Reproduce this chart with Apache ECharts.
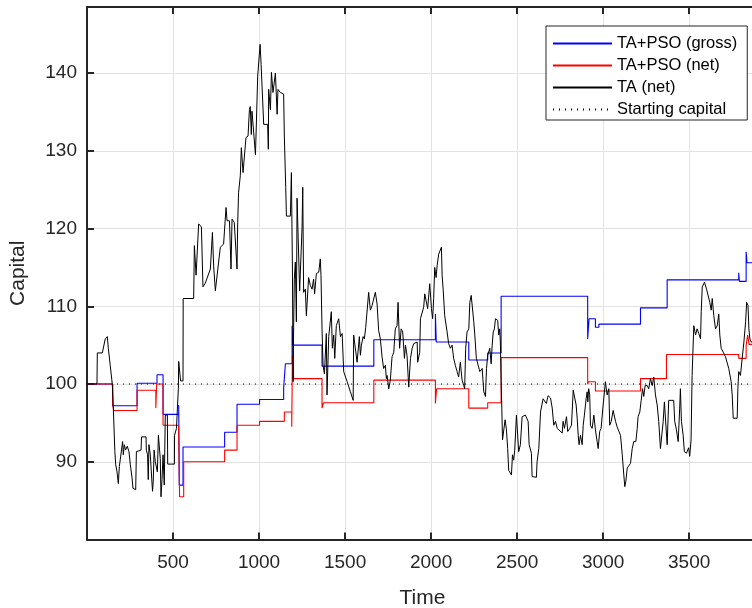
<!DOCTYPE html>
<html>
<head>
<meta charset="utf-8">
<script src="https://cdn.jsdelivr.net/npm/echarts@6/dist/echarts.min.js"></script>
<style>
  html, body { margin: 0; padding: 0; background: #fff; }
  #chart { width: 752px; height: 608px; }
</style>
</head>
<body>
<div id="chart"></div>
<script>
// change points [time, capital] of the step curves
const grossSteps = [[0,100],[149,97.2],[291,100.1],[407,101.2],[442,96.1],[533,97.3],[536,87.0],[558,91.9],[800,93.8],[872,97.4],[1003,98.0],[1143,99.5],[1153,102.6],[1192,107.5],[1196,105.0],[1366,102.3],[1667,105.7],[2025,109.0],[2030,105.4],[2219,103.1],[2329,104.0],[2407,111.3],[2910,105.8],[2918,108.4],[2955,107.3],[2975,107.7],[3217,109.8],[3372,113.4],[3788,114.3],[3792,113.2],[3831,117.0],[3836,115.6],[3900,115.6]];
const netSteps = [[0,100],[149,97.5],[155,96.6],[291,99.2],[400,96.9],[405,100.0],[442,94.7],[533,93.8],[538,85.5],[562,90.0],[800,91.5],[872,94.7],[1003,95.2],[1147,96.4],[1190,94.5],[1194,103.7],[1198,100.7],[1366,96.9],[1375,97.6],[1667,100.5],[2025,97.5],[2032,99.4],[2219,96.9],[2329,97.6],[2407,103.4],[2910,100.0],[2915,100.3],[2955,99.1],[3217,100.7],[3368,103.8],[3788,103.3],[3831,105.0],[3840,106.3],[3848,105.1],[3900,105.1]];
// TA (net) capital path
const taNet = [[0,100],[58,100],[60,104.0],[89,104.0],[106,105.8],[118,106.1],[124,104.6],[135,102.4],[147,100],[153,96.9],[162,91.3],[167,89.6],[174,88.8],[182,87.2],[188,89.4],[194,89.2],[207,92.6],[211,90.9],[217,92.2],[224,91.5],[234,92.0],[244,91.3],[252,89.6],[262,87.9],[267,86.6],[277,86.4],[283,86.4],[287,91.3],[298,91.5],[314,91.5],[317,93.2],[343,93.2],[345,91.5],[352,90.9],[356,87.7],[360,92.2],[368,90.9],[376,87.9],[381,86.2],[385,87.5],[390,91.5],[397,90.0],[409,88.7],[415,93.4],[426,90.4],[430,85.5],[436,87.7],[442,90.9],[449,87.0],[455,96.0],[467,96.0],[469,89.7],[508,89.7],[509,93.4],[520,94.3],[531,99.4],[533,102.9],[544,100.4],[558,100.4],[559,111.0],[620,111.0],[624,117.8],[634,114.0],[649,120.6],[665,120.2],[669,120.4],[674,112.5],[688,113.0],[717,114.8],[729,119.5],[736,115.2],[746,112.0],[775,117.6],[794,118.0],[808,122.7],[814,121.0],[828,121.0],[837,114.8],[843,121.2],[856,120.8],[872,114.8],[876,120.8],[881,124.6],[891,126.8],[897,130.4],[907,127.2],[916,127.0],[924,131.7],[936,131.9],[944,135.3],[949,135.7],[955,132.1],[959,135.1],[969,132.3],[979,129.5],[984,133.2],[992,139.6],[1000,139.8],[1006,143.7],[1012,141.1],[1023,141.1],[1027,133.4],[1050,133.4],[1054,130.2],[1056,137.9],[1066,135.3],[1072,140.1],[1081,137.5],[1095,140.0],[1105,134.7],[1110,137.9],[1124,137.5],[1143,137.3],[1147,131.9],[1155,125.3],[1159,121.6],[1182,121.6],[1188,127.2],[1194,114.8],[1198,100.3],[1201,107.3],[1205,113.5],[1211,115.7],[1217,108.0],[1221,123.9],[1230,123.9],[1236,112.0],[1250,120.2],[1254,125.3],[1259,111.8],[1269,112.2],[1275,108.8],[1288,113.7],[1298,112.7],[1308,112.2],[1317,113.5],[1323,111.6],[1333,114.2],[1347,114.4],[1356,116.1],[1360,114.0],[1366,107.1],[1372,102.4],[1380,101.3],[1391,106.5],[1395,98.6],[1405,106.1],[1415,106.1],[1420,109.3],[1426,104.6],[1434,106.3],[1440,103.3],[1449,107.5],[1463,108.4],[1473,106.1],[1483,106.5],[1492,101.6],[1512,100.3],[1531,99.0],[1541,99.0],[1547,97.9],[1550,106.3],[1560,106.5],[1570,102.8],[1583,106.1],[1589,103.7],[1595,105.0],[1605,106.1],[1612,105.8],[1620,107.3],[1628,107.5],[1637,111.8],[1647,109.5],[1657,110.1],[1666,110.3],[1676,111.8],[1686,110.3],[1695,106.9],[1705,105.8],[1715,103.5],[1724,102.0],[1734,102.4],[1740,100.7],[1744,101.1],[1754,99.4],[1763,100.5],[1773,103.5],[1783,104.1],[1792,107.1],[1802,107.5],[1808,110.5],[1817,104.6],[1826,107.1],[1835,106.7],[1845,103.3],[1851,105.0],[1860,103.7],[1870,99.6],[1880,103.3],[1890,104.6],[1899,105.2],[1909,105.4],[1919,105.4],[1922,102.8],[1934,104.1],[1938,108.4],[1957,109.9],[1963,111.6],[1973,111.4],[1980,109.7],[1992,112.9],[2002,109.7],[2009,108.4],[2015,111.0],[2021,115.0],[2029,113.7],[2035,115.2],[2044,116.7],[2054,116.9],[2060,117.6],[2064,114.0],[2070,112.2],[2079,108.8],[2093,106.7],[2102,105.2],[2112,104.6],[2122,105.0],[2131,103.3],[2141,102.4],[2151,101.6],[2160,100.9],[2170,102.8],[2180,100.5],[2190,99.8],[2195,99.4],[2201,104.6],[2209,106.7],[2219,107.1],[2225,110.5],[2233,111.4],[2244,111.2],[2248,108.0],[2254,106.3],[2263,103.3],[2273,103.3],[2283,101.6],[2297,102.0],[2306,99.0],[2316,98.4],[2322,102.0],[2329,103.7],[2341,104.6],[2349,102.6],[2355,105.0],[2361,106.7],[2368,107.1],[2374,108.4],[2380,108.6],[2387,108.2],[2393,106.3],[2399,107.1],[2403,105.0],[2407,100.3],[2411,96.9],[2415,92.8],[2426,92.6],[2430,95.4],[2438,94.1],[2445,91.7],[2451,88.9],[2461,88.9],[2467,88.3],[2473,90.9],[2480,90.2],[2486,91.5],[2496,96.0],[2504,96.2],[2509,91.3],[2519,92.2],[2529,95.8],[2548,96.0],[2564,95.2],[2570,92.2],[2583,91.1],[2587,88.1],[2612,88.0],[2616,90.0],[2626,91.7],[2636,96.4],[2645,96.6],[2651,98.1],[2661,97.9],[2670,97.5],[2680,98.5],[2686,98.6],[2694,98.2],[2704,96.9],[2713,94.7],[2723,95.2],[2733,94.3],[2742,94.1],[2762,93.7],[2767,95.2],[2775,94.3],[2787,95.8],[2794,93.9],[2806,94.3],[2816,94.7],[2826,99.2],[2835,99.0],[2843,97.3],[2849,95.6],[2855,93.4],[2860,92.2],[2868,93.4],[2878,92.2],[2884,94.7],[2891,96.0],[2901,98.1],[2907,99.0],[2911,97.7],[2916,99.4],[2922,98.6],[2926,94.7],[2936,94.3],[2946,96.0],[2955,94.1],[2965,92.6],[2971,91.7],[2980,93.9],[2988,94.3],[3000,97.3],[3013,100.3],[3023,98.6],[3033,99.4],[3038,94.7],[3047,95.2],[3058,96.6],[3068,96.4],[3072,95.2],[3081,94.5],[3091,94.3],[3101,93.4],[3111,90.9],[3120,88.3],[3126,86.8],[3132,87.5],[3140,89.2],[3149,89.4],[3159,89.8],[3169,91.7],[3178,92.6],[3190,92.6],[3198,94.3],[3203,95.8],[3213,96.4],[3221,97.9],[3229,99.4],[3236,98.4],[3244,99.8],[3256,99.8],[3265,99.4],[3275,100.7],[3285,99.8],[3294,100.9],[3304,98.6],[3314,97.3],[3323,95.2],[3333,91.7],[3343,91.7],[3349,95.2],[3356,97.7],[3364,97.9],[3372,92.2],[3381,97.9],[3410,97.9],[3416,95.2],[3426,94.1],[3436,92.6],[3445,96.9],[3449,99.4],[3455,95.2],[3465,93.4],[3472,91.3],[3484,91.1],[3492,90.9],[3497,91.8],[3503,90.7],[3511,92.8],[3517,101.1],[3527,107.5],[3537,106.3],[3546,107.1],[3556,106.5],[3566,105.8],[3570,109.3],[3576,112.5],[3589,113.1],[3601,112.2],[3611,112.0],[3620,110.5],[3628,109.5],[3634,111.0],[3643,108.8],[3653,107.1],[3663,107.5],[3672,109.0],[3678,106.3],[3686,104.6],[3698,104.1],[3711,103.5],[3721,103.3],[3730,102.0],[3740,102.0],[3744,100.3],[3750,98.6],[3756,95.6],[3779,95.6],[3783,99.4],[3788,101.6],[3798,101.1],[3808,103.3],[3818,105.4],[3828,108.0],[3834,110.5],[3842,110.1],[3847,107.1],[3853,105.8],[3861,105.4],[3869,105.2],[3900,105.0]];
const startLevel = [[0,100],[3900,100]];
const seriesNames = ['TA+PSO (gross)', 'TA+PSO (net)', 'TA (net)', 'Starting capital'];

const axisColor = '#262626';
const gridColor = '#e2e2e2';
const font = 'Arial, "Liberation Sans", Helvetica, sans-serif';

let chart = echarts.init(document.getElementById('chart'));
let option = {
  animation: false,
  backgroundColor: '#fff',
  // plot box runs past the right edge of the canvas, like the cropped original
  grid: { left: 87, top: 7, width: 671, height: 532.5, outerBoundsMode: 'none', containLabel: false },
  legend: {
    orient: 'vertical',
    left: 546,
    top: 26,
    padding: [9, 10, 2, 6],
    itemWidth: 59,
    itemHeight: 16,
    itemGap: 5,
    borderColor: axisColor,
    borderWidth: 1,
    backgroundColor: '#fff',
    itemStyle: { opacity: 0 },
    textStyle: { fontSize: 16.5, fontFamily: font, color: '#000' },
    data: seriesNames
  },
  xAxis: [
    {
      type: 'value', min: 0, max: 3900, interval: 500,
      name: 'Time', nameLocation: 'middle', nameGap: 48,
      nameTextStyle: { fontSize: 21, fontFamily: font, color: axisColor },
      axisLine: { lineStyle: { color: axisColor, width: 2 } },
      axisTick: { inside: true, length: 7, lineStyle: { color: axisColor, width: 2 } },
      axisLabel: {
        margin: 14, fontSize: 19, fontFamily: font, color: axisColor,
        formatter: v => (v > 0 && v < 3900 && v % 500 === 0) ? String(v) : ''
      },
      splitLine: { show: true, lineStyle: { color: gridColor, width: 1 } }
    },
    {
      type: 'value', position: 'top', min: 0, max: 3900, interval: 500,
      axisLine: { show: true, lineStyle: { color: axisColor, width: 2 } },
      axisTick: { show: true, inside: true, length: 7, lineStyle: { color: axisColor, width: 2 } },
      axisLabel: { show: false },
      splitLine: { show: false }
    }
  ],
  yAxis: {
    type: 'value', min: 80, max: 148.5, interval: 10,
    name: 'Capital', nameLocation: 'middle', nameGap: 58,
    nameTextStyle: { fontSize: 21, fontFamily: font, color: axisColor },
    axisLine: { show: true, lineStyle: { color: axisColor, width: 2 } },
    axisTick: { show: true, inside: true, length: 7, lineStyle: { color: axisColor, width: 2 } },
    axisLabel: {
      margin: 10, fontSize: 19, fontFamily: font, color: axisColor,
      formatter: v => (v > 80 && v % 10 === 0) ? String(v) : ''
    },
    splitLine: { show: true, lineStyle: { color: gridColor, width: 1 } }
  },
  series: [
    {
      name: seriesNames[0], type: 'line', step: 'end', data: grossSteps,
      symbol: 'none', lineStyle: { color: '#0000ff', width: 1.1 }, itemStyle: { color: '#0000ff' }, z: 2
    },
    {
      name: seriesNames[1], type: 'line', step: 'end', data: netSteps,
      symbol: 'none', lineStyle: { color: '#ff0000', width: 1.1 }, itemStyle: { color: '#ff0000' }, z: 2
    },
    {
      name: seriesNames[2], type: 'line', data: taNet,
      symbol: 'none', lineStyle: { color: '#000', width: 1 }, itemStyle: { color: '#000' }, z: 3
    },
    {
      name: seriesNames[3], type: 'line', data: startLevel,
      symbol: 'none', lineStyle: { color: '#000', width: 1, type: [1, 5] }, itemStyle: { color: '#000' }, z: 1
    }
  ]
};
chart.setOption(option);
</script>
</body>
</html>
